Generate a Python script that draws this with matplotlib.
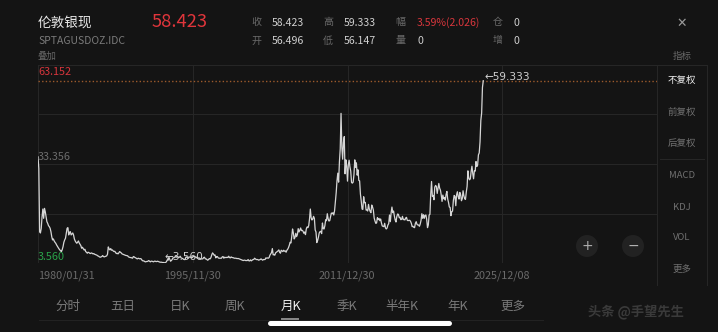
import matplotlib
matplotlib.use("Agg")
import matplotlib.pyplot as plt
from matplotlib.patches import Ellipse
from matplotlib.lines import Line2D

plt.rcParams['font.family'] = ['Noto Sans CJK SC', 'DejaVu Sans']

# ---------------- data (monthly close, 1980/01 .. 2025/12) ----------------
silver_1980s = [
    35.5, 32.0, 13.0, 12.6, 14.0, 17.5, 19.8, 17.0, 20.0, 19.0, 17.5, 16.0,
    15.5, 14.8, 14.5, 14.0, 13.0, 11.5, 10.5, 10.8, 10.2, 9.8, 9.5, 9.0,
    8.6, 8.2, 7.8, 7.5, 7.2, 7.0, 7.6, 8.5, 9.8, 10.5, 11.0, 12.5,
    14.0, 14.2, 12.0, 12.8, 13.0, 12.0, 12.3, 12.6, 12.0, 10.8, 10.2, 9.8,
    9.5, 9.8, 10.2, 9.6, 9.2, 8.8, 8.0, 8.3, 7.9, 7.5, 7.7, 7.0,
    6.8, 6.5, 6.8, 6.7, 6.5, 6.4, 6.6, 6.5, 6.3, 6.4, 6.2, 6.1,
    6.0, 5.9, 5.7, 5.6, 5.4, 5.3, 5.4, 5.5, 5.8, 5.5, 5.4, 5.5,
    5.6, 5.7, 6.2, 8.4, 7.8, 7.5, 7.9, 7.4, 7.5, 7.2, 7.0, 7.1,
    6.7, 6.4, 6.5, 6.3, 6.6, 7.0, 6.8, 6.6, 6.3, 6.2, 6.1, 6.0,
    5.9, 5.8, 5.8, 5.7, 5.4, 5.3, 5.2, 5.2, 5.1, 5.0, 5.5, 5.4,
]
silver_1990s = [
    5.2, 5.1, 4.9, 4.8, 5.0, 4.9, 4.8, 4.9, 4.7, 4.3, 4.2, 4.2,
    4.0, 3.9, 4.0, 4.0, 4.1, 4.3, 4.1, 3.9, 4.1, 4.1, 4.0, 3.9,
    4.1, 4.1, 4.0, 4.0, 4.1, 4.0, 3.9, 3.8, 3.8, 3.8, 3.7, 3.7,
    3.7, 3.56, 3.7, 4.0, 4.5, 4.4, 5.3, 4.7, 4.1, 4.3, 4.6, 5.1,
    5.1, 5.3, 5.5, 5.3, 5.5, 5.4, 5.2, 5.3, 5.6, 5.1, 5.0, 4.9,
    4.7, 4.6, 4.6, 5.3, 5.4, 5.1, 5.0, 5.3, 5.4, 5.3, 5.1, 5.2,
    5.6, 5.5, 5.5, 5.3, 5.3, 5.0, 5.0, 5.1, 5.0, 4.8, 4.8, 4.8,
    4.8, 5.2, 5.3, 4.8, 4.8, 4.6, 4.4, 4.6, 4.9, 4.8, 5.2, 6.0,
    6.6, 6.3, 5.9, 6.0, 5.1, 5.5, 5.5, 5.1, 5.0, 5.0, 5.0, 5.0,
    5.4, 5.5, 5.0, 5.3, 5.2, 5.2, 5.3, 5.2, 5.6, 5.2, 5.1, 5.4,
]
silver_2000s = [
    5.2, 5.2, 5.1, 5.0, 5.0, 5.0, 4.9, 4.9, 4.9, 4.8, 4.7, 4.6,
    4.5, 4.4, 4.3, 4.4, 4.4, 4.3, 4.3, 4.3, 4.6, 4.2, 4.2, 4.5,
    4.2, 4.4, 4.6, 4.6, 5.0, 4.8, 4.6, 4.6, 4.6, 4.4, 4.5, 4.6,
    4.8, 4.6, 4.4, 4.6, 4.6, 4.6, 5.1, 5.0, 5.1, 5.0, 5.2, 5.9,
    6.3, 6.7, 7.9, 6.0, 6.1, 5.9, 6.6, 6.8, 7.0, 7.2, 7.5, 6.8,
    6.5, 7.4, 7.2, 7.0, 7.4, 7.1, 7.2, 6.8, 7.4, 7.7, 8.2, 8.9,
    9.8, 9.6, 11.5, 13.8, 12.6, 10.8, 11.2, 12.5, 11.5, 12.1, 13.9, 12.9,
    13.4, 14.1, 13.3, 13.4, 13.1, 12.5, 12.9, 12.1, 13.8, 14.4, 14.2, 14.8,
    16.8, 19.8, 17.2, 16.5, 16.8, 17.6, 17.0, 13.5, 12.9, 9.7, 10.3, 11.3,
    12.6, 13.0, 13.1, 12.4, 15.6, 13.9, 13.8, 14.8, 16.6, 16.3, 18.4, 16.9,
]
silver_2010s = [
    16.2, 16.3, 17.5, 18.6, 18.4, 18.7, 18.0, 19.3, 21.9, 24.7, 28.3, 30.6,
    27.9, 34.0, 37.9, 48.6, 38.5, 34.8, 39.9, 41.6, 30.4, 34.6, 32.6, 28.2,
    33.1, 34.5, 32.5, 31.2, 27.8, 27.6, 27.9, 30.2, 34.6, 32.3, 33.7, 30.0,
    31.6, 28.4, 28.3, 24.3, 22.2, 19.8, 19.7, 23.5, 21.7, 21.8, 19.5, 19.5,
    19.2, 21.2, 19.8, 19.1, 18.7, 21.0, 20.4, 19.5, 17.1, 16.2, 15.5, 15.6,
    17.2, 16.6, 17.0, 16.3, 16.8, 15.6, 14.7, 14.6, 14.5, 15.5, 14.1, 13.8,
    14.1, 15.0, 15.4, 18.0, 16.0, 18.7, 20.4, 18.7, 19.2, 17.7, 16.5, 15.9,
    17.5, 18.3, 18.2, 17.2, 17.3, 16.6, 16.7, 17.6, 16.6, 16.7, 16.5, 17.1,
    17.3, 16.4, 16.3, 16.4, 16.4, 16.1, 15.5, 14.5, 14.6, 14.3, 14.2, 15.5,
    16.0, 15.2, 15.0, 15.0, 14.6, 15.3, 16.4, 18.4, 17.0, 18.1, 17.0, 17.9,
]
silver_2020s = [
    18.0, 16.7, 14.2, 15.0, 18.0, 18.2, 24.3, 28.1, 23.6, 23.9, 22.6, 26.4,
    26.9, 26.6, 24.5, 26.0, 27.5, 26.1, 25.5, 24.0, 22.1, 24.0, 22.9, 23.3,
    22.5, 24.2, 25.1, 22.8, 21.8, 20.4, 20.3, 17.8, 19.0, 19.2, 22.4, 23.9,
    23.6, 20.8, 24.1, 25.0, 23.5, 22.8, 24.8, 24.1, 22.3, 22.9, 25.3, 23.8,
    22.9, 22.7, 24.9, 26.6, 31.3, 29.1, 28.6, 28.9, 31.1, 32.7, 30.5, 28.9,
    31.3, 31.2, 34.1, 32.6, 33.0, 36.1, 36.7, 40.0, 46.5, 48.7, 56.4, 58.423,
]
axis_values = [63.152, 33.356, 3.560]          # top / middle / bottom labels
x_tick_labels = ["1980/01/31", "1995/11/30", "2011/12/30", "2025/12/08"]
last_price = 58.423
period_high = 59.333
period_low = 3.560

header_name = "伦敦银现"
header_code = "SPTAGUSDOZ.IDC"
quote_labels = ["收", "开", "高", "低", "幅", "量", "仓", "增"]
quote_values = ["58.423", "56.496", "59.333", "56.147", "3.59%(2.026)", "0", "0", "0"]
side_items = ["不复权", "前复权", "后复权", "MACD", "KDJ", "VOL", "更多"]
tab_items = ["分时", "五日", "日K", "周K", "月K", "季K", "半年K", "年K", "更多"]

values = silver_1980s + silver_1990s + silver_2000s + silver_2010s + silver_2020s
idx = list(range(len(values)))

# ---------------- figure ----------------
W, H = 718, 332
BG = "#141414"
GRID = "#262626"
fig = plt.figure(figsize=(W / 100, H / 100), dpi=100, facecolor=BG)


def P(x, y):
    return x / W, 1 - y / H


def T(x, y, s, **kw):
    fig.text(x / W, 1 - y / H, s, **kw)


# main chart axes (pixel box 38..657 x 65..263)
L, R, TOP, BOT = 38, 657, 65, 263
ax = fig.add_axes([L / W, 1 - BOT / H, (R - L) / W, (BOT - TOP) / H])
ax.set_facecolor(BG)
xmax = 766
ax.set_xlim(0, xmax)
ymin, ymax = axis_values[2], axis_values[0]
ax.set_ylim(ymin, ymax)
for s in ax.spines.values():
    s.set_visible(False)
ax.set_xticks([])
ax.set_yticks([])

ylev = [ymin + (ymax - ymin) * k / 4 for k in range(5)]
for yv in ylev:
    ax.axhline(yv, color=GRID, lw=0.8, zorder=0)
xlev = [xmax * k / 4 for k in range(5)]
for xv in xlev:
    ax.axvline(xv, color=GRID, lw=0.8, zorder=0)

ax.axhline(last_price, color="#9c5a2c", lw=1.0, ls=(0, (1, 1.6)), zorder=1)
ax.plot(idx, values, color="#d6d6d6", lw=0.9, zorder=3)

# high / low markers
imax = max(idx, key=lambda i: values[i])
ax.annotate("←" + f"{period_high:.3f}", xy=(imax, values[imax]), xytext=(1, 3),
            textcoords="offset points", color="#d0d0d0", fontsize=7.6,
            ha="left", va="center", family=["DejaVu Sans"])
imin = min(idx, key=lambda i: values[i])
ax.annotate("←" + f"{period_low:.3f}", xy=(imin, values[imin]), xytext=(0, 4),
            textcoords="offset points", color="#d0d0d0", fontsize=7.6,
            ha="left", va="center", family=["DejaVu Sans"])

# axis value labels
T(38, 72, f"{axis_values[0]:.3f}", color="#d6353c", fontsize=7.8, va="center", ha="left")
T(38, 157.5, f"{axis_values[1]:.3f}", color="#6c6c6c", fontsize=7.8, va="center", ha="left")
T(38, 257, f"{axis_values[2]:.3f}", color="#2aa34a", fontsize=7.8, va="center", ha="left")

# x labels
xl_px = [38, 192, 347, 502]
for k, (xp, lab) in enumerate(zip(xl_px, x_tick_labels)):
    T(xp, 276, lab, color="#6a6a6a", fontsize=7.8, va="center",
      ha="left" if k == 0 else "center")

# frame lines beyond chart
fig.add_artist(Line2D([R / W, 707 / W], [1 - TOP / H] * 2, color=GRID, lw=0.8))
for xp in (R, 707):
    fig.add_artist(Line2D([xp / W] * 2, [1 - 65 / H, 1 - 285 / H], color=GRID, lw=0.8))
fig.add_artist(Line2D([660 / W, 704 / W], [1 - 159 / H] * 2, color=GRID, lw=0.8))

# header
T(38, 23, header_name, color="#e8e8e8", fontsize=9.8, va="center", ha="left")
T(38, 40.5, header_code, color="#7a7a7a", fontsize=7.5, va="center", ha="left")
T(38, 56.5, "叠加", color="#666666", fontsize=6.8, va="center", ha="left")
T(152, 22, "58.423", color="#e0353b", fontsize=13.2, va="center", ha="left")

lab_x = [251, 251, 323, 323, 395, 395, 493, 493]
val_x = [272, 272, 344, 344, 417, 417, 514, 514]
rows_y = [22.5, 40.5, 22.5, 40.5, 22.5, 40.5, 22.5, 40.5]
for lab, val, lx, vx, ry in zip(quote_labels, quote_values, lab_x, val_x, rows_y):
    T(lx, ry, lab, color="#6a6a6a", fontsize=7.2, va="center", ha="left")
    col = "#d8363c" if "%" in val else "#cfcfcf"
    T(vx, ry, val, color=col, fontsize=7.6, va="center", ha="left")

T(682, 23, "✕", color="#9a9a9a", fontsize=9, va="center", ha="center", family=["DejaVu Sans"])
T(682, 56.5, "指标", color="#6a6a6a", fontsize=6.8, va="center", ha="center")

side_y = [80.5, 112, 143, 175, 207, 238, 269]
for k, (s, yy) in enumerate(zip(side_items, side_y)):
    T(682, yy, s, color="#eeeeee" if k == 0 else "#707070", fontsize=6.8,
      va="center", ha="center")

# zoom buttons
for cx, sym in ((587, "+"), (633, "−")):
    fig.add_artist(Ellipse(P(cx, 246), 22 / W, 22 / H, transform=fig.transFigure,
                           facecolor="#222222", edgecolor="none"))
    T(cx, 245.5, sym, color="#b0b0b0", fontsize=10, va="center", ha="center",
      family=["DejaVu Sans"])

# bottom tabs
tab_x = [68, 123, 180, 235, 291, 347, 402, 458, 513]
for s, xx in zip(tab_items, tab_x):
    T(xx, 306.5, s, color="#f2f2f2" if s == "月K" else "#7a7a7a", fontsize=9.0,
      va="center", ha="center")
fig.add_artist(Line2D([39 / W, 543 / W], [1 - 320 / H] * 2, color="#222222", lw=0.8))
fig.add_artist(Line2D([282 / W, 298 / W], [1 - 318.5 / H] * 2, color="#8a8a8a", lw=1.4))
fig.add_artist(Line2D([270 / W, 449 / W], [1 - 323 / H] * 2, color="#ffffff", lw=3.6,
                      solid_capstyle="round"))

# watermark
T(636, 312, "头条 @手望先生", color="#3a3a3a", fontsize=9.5, va="center", ha="center",
  fontweight="bold")

fig.savefig("out.png", dpi=100, facecolor=BG)
